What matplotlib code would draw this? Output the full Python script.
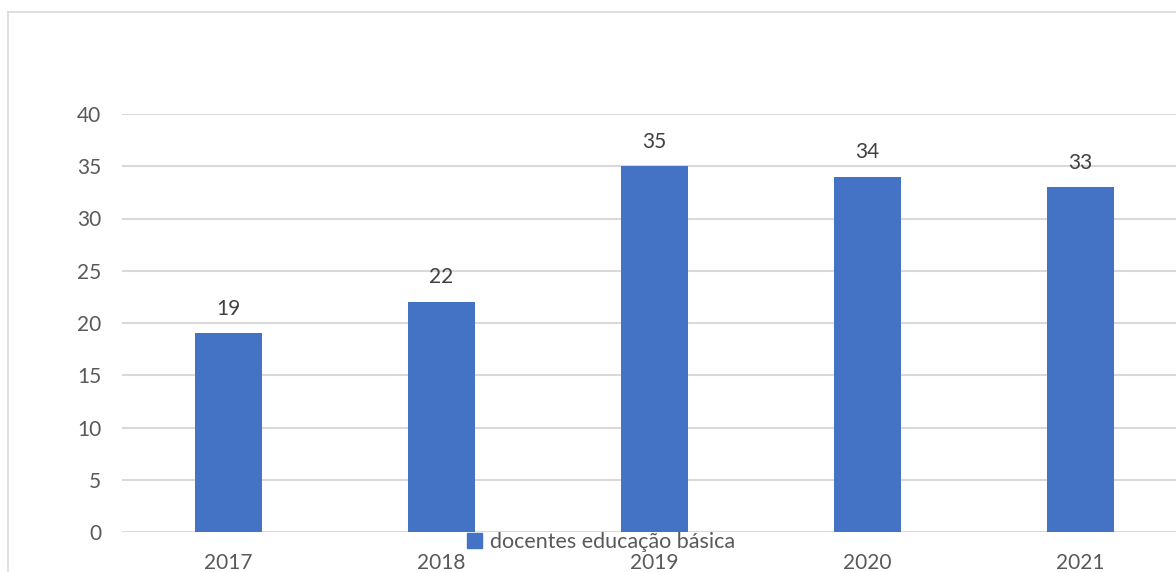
import matplotlib
matplotlib.use("Agg")
from matplotlib import pyplot as plt
from matplotlib.lines import Line2D
from matplotlib.patches import Patch

anos = ["2017", "2018", "2019", "2020", "2021"]
docentes = [19, 22, 35, 34, 33]
serie = "docentes educação básica"

azul = "#4472C4"
cinza = "#595959"
grade = "#D9D9D9"

plt.rcParams['font.family'] = ['Lato', 'DejaVu Sans']

W, H = 1176, 572
fig = plt.figure(figsize=(W / 100, H / 100), dpi=100)
# plot area runs past the right edge (picture is cropped)
ax = fig.add_axes([122 / W, 1 - 532 / H, 1065 / W, (532 - 114) / H])

x = list(range(len(anos)))
barras = ax.bar(x, docentes, width=0.31, color=azul)
for xi, v in zip(x, docentes):
    ax.text(xi, v + 1.4, str(v), ha="center", va="bottom", fontsize=15, color="#404040")

ax.set_xlim(-0.5, 4.5)
ax.set_ylim(0, 40)
ax.set_yticks(range(0, 41, 5))
ax.set_xticks(x)
ax.set_xticklabels(anos)
ax.yaxis.grid(True, color=grade, linewidth=1.5)
ax.set_axisbelow(True)
for s in ax.spines.values():
    s.set_visible(False)
ax.tick_params(length=0, labelsize=15, labelcolor=cinza)
ax.tick_params(axis="y", pad=15)
ax.tick_params(axis="x", pad=15)

leg = fig.legend(handles=[Patch(color=azul, label=serie)], loc="center",
                 bbox_to_anchor=(601 / W, 1 - 542 / H), frameon=False,
                 fontsize=15.5, handlelength=0.7, handleheight=0.7,
                 handletextpad=0.35, labelcolor=cinza)

# chart border (only top and left are visible in the crop)
fig.add_artist(Line2D([8 / W, 1], [1 - 12 / H, 1 - 12 / H], color=grade, lw=1.2))
fig.add_artist(Line2D([8 / W, 8 / W], [0, 1 - 12 / H], color=grade, lw=1.2))

fig.savefig("out.png", dpi=100)
